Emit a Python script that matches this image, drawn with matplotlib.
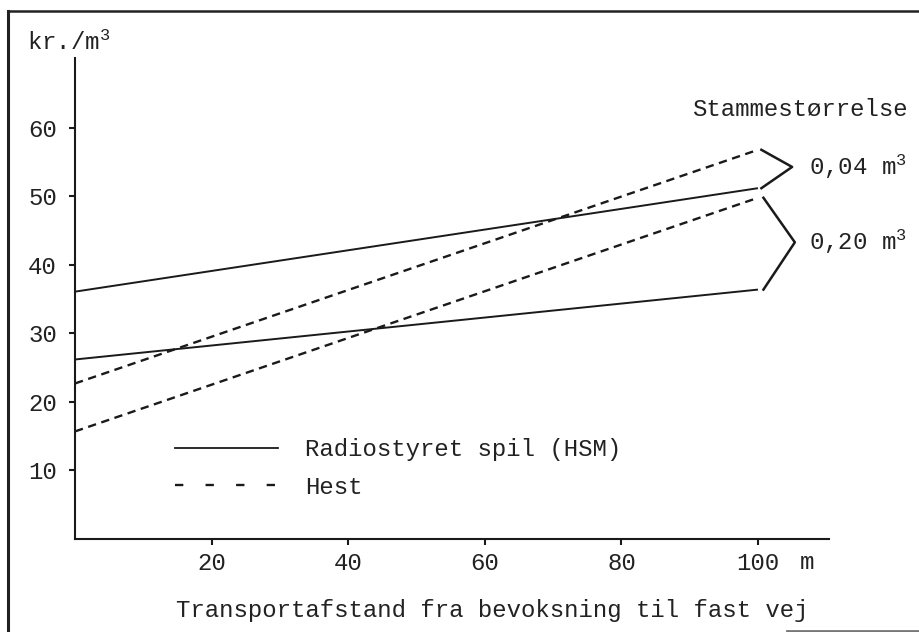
import matplotlib

matplotlib.use("Agg")
import matplotlib.pyplot as plt  # noqa: E402
from matplotlib.lines import Line2D  # noqa: E402

# Transport distance (m) at the two ends of each line
distance = [0, 100]

# kr./m3 for each method and stem size
spil_004 = [36.1, 51.2]
spil_020 = [26.2, 36.4]
hest_004 = [22.7, 56.8]
hest_020 = [15.7, 49.8]

x_ticks = [20, 40, 60, 80, 100]
y_ticks = [10, 20, 30, 40, 50, 60]
stem_sizes = ["0,04 m$^3$", "0,20 m$^3$"]

FONT = "Liberation Mono"
FS = 17.3
plt.rcParams["font.family"] = FONT
plt.rcParams["mathtext.fontset"] = "custom"
plt.rcParams["mathtext.rm"] = FONT
plt.rcParams["mathtext.it"] = FONT
plt.rcParams["lines.scale_dashes"] = False

W, H = 920, 632
fig = plt.figure(figsize=(W / 100, H / 100), dpi=100)
ax_l, ax_r, ax_b, ax_t = 75, 829, 539, 58
ax = fig.add_axes([ax_l / W, 1 - ax_b / H, (ax_r - ax_l) / W, (ax_b - ax_t) / H])

solid = dict(color="#1a1a1a", lw=1.4, solid_capstyle="butt")
dashed = dict(color="#1a1a1a", lw=1.7, dashes=(6, 4), dash_capstyle="butt")
ax.plot(distance, spil_004, **solid)
ax.plot(distance, spil_020, **solid)
ax.plot(distance, hest_004, **dashed)
ax.plot(distance, hest_020, **dashed)

ax.set_xlim(0, 110.4)
ax.set_ylim(0, 70.2)
for s in ("top", "right"):
    ax.spines[s].set_visible(False)
for s in ("left", "bottom"):
    ax.spines[s].set_linewidth(1.5)
    ax.spines[s].set_color("#1a1a1a")
ax.set_xticks(x_ticks)
ax.set_yticks(y_ticks)
ax.tick_params(length=4, width=1.5, labelsize=FS, color="#1a1a1a", labelcolor="#222")
ax.tick_params(axis="x", pad=5)
ax.tick_params(axis="y", pad=9)
ax.annotate("m", xy=(100, 0), xycoords="data", xytext=(35, -8.5),
            textcoords="offset points", fontsize=FS, va="top", ha="center",
            color="#222", annotation_clip=False)

ax.set_xlabel("Transportafstand fra bevoksning til fast vej", fontsize=FS,
              labelpad=18, color="#222", x=0.553)
fig.text(27 / W, 1 - 43 / H, "kr./m$^3$", fontsize=FS, va="center", ha="left",
         color="#222")

# braces grouping the line ends by stem size
brace = dict(color="#1a1a1a", lw=1.8, clip_on=False)
ax.plot([100.5, 105.0, 100.5], [hest_004[1], 54.3, spil_004[1]], **brace)
ax.plot([100.8, 105.4, 100.8], [hest_020[1], 43.3, spil_020[1]], **brace)
ax.text(107.5, 54.3, stem_sizes[0], fontsize=FS, va="center", ha="left",
        color="#222", clip_on=False)
ax.text(107.5, 43.3, stem_sizes[1], fontsize=FS, va="center", ha="left",
        color="#222", clip_on=False)
fig.text(908 / W, 1 - 110 / H, "Stammestørrelse", fontsize=FS, va="center",
         ha="right", color="#222")

handles = [
    Line2D([], [], color="#1a1a1a", lw=1.3),
    Line2D([], [], color="#1a1a1a", lw=1.7, dashes=(6, 16)),
]
fig.legend(handles, ["Radiostyret spil (HSM)", "Hest"], loc="upper left",
           bbox_to_anchor=(175 / W, 1 - 438 / H), frameon=False, fontsize=FS,
           handlelength=4.3, handletextpad=1.1, labelspacing=0.62,
           borderpad=0, borderaxespad=0, labelcolor="#222")

# scanned page frame
fig.add_artist(Line2D([8 / W, 8 / W], [0, 1 - 11 / H], color="#222", lw=2.2))
fig.add_artist(Line2D([8 / W, 1], [1 - 11 / H, 1 - 11 / H], color="#222", lw=1.8))
fig.add_artist(Line2D([787 / W, 1], [1 / H, 1 / H], color="#777", lw=2))

fig.savefig("out.png", dpi=100)
